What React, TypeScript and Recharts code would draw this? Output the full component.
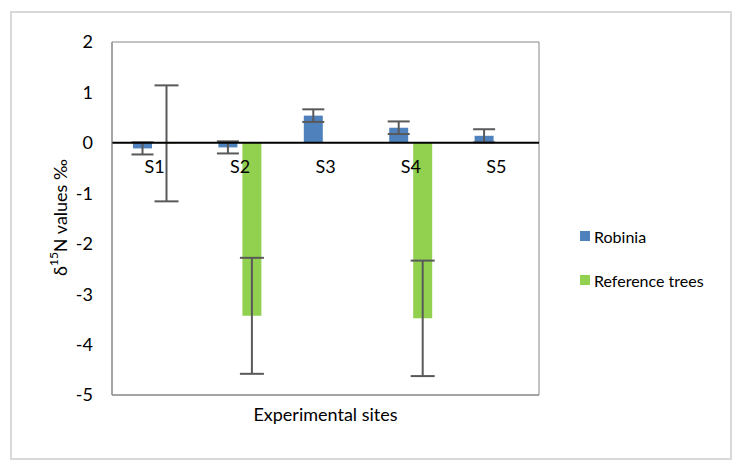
import { ComposedChart, Bar, Line, XAxis, YAxis, ErrorBar, ReferenceLine, ReferenceArea, LabelList } from 'recharts'

const SITES = ['S1', 'S2', 'S3', 'S4', 'S5']
const ROBINIA = [-0.11, -0.09, 0.54, 0.3, 0.14]
const ROBINIA_ERR = [0.12, 0.12, 0.125, 0.125, 0.13]
// S1 reference mean is essentially zero (hidden under the axis line)
const REFERENCE = [-0.01, -3.43, 0, -3.48, 0]
const REFERENCE_ERR = [1.15, 1.15, null, 1.145, null]
const Y_TICKS = [-5, -4, -3, -2, -1, 0, 1, 2]

const BLUE = '#4F81BD'
const GREEN = '#92D050'
const FRAME = '#868686'
const FONT = 'Lato, "Open Sans", sans-serif'

const data = SITES.map((site, i) => ({
  site,
  robinia: ROBINIA[i],
  robiniaErr: ROBINIA_ERR[i],
  reference: REFERENCE[i],
  referenceErr: REFERENCE_ERR[i],
}))

const legendItems = [
  { name: 'Robinia', color: BLUE },
  { name: 'Reference trees', color: GREEN },
]

function YTitle({ viewBox }: any) {
  const cx = viewBox.x + 48
  const cy = viewBox.y + viewBox.height / 2 - 1
  return (
    <text
      x={cx}
      y={cy}
      transform={`rotate(-90 ${cx} ${cy})`}
      textAnchor="middle"
      dominantBaseline="central"
      fontSize={18}
      fontFamily={FONT}
      fill="#000"
    >
      δ<tspan fontSize={12} dy={-7}>15</tspan>
      <tspan dy={7}>N values ‰</tspan>
    </text>
  )
}

export default function App() {
  return (
    <div
      style={{
        position: 'relative',
        width: 722,
        height: 449,
        marginLeft: 2,
        marginTop: 3,
        border: '2px solid #d9d9d9',
        boxSizing: 'border-box',
        background: '#fff',
        fontFamily: FONT,
      }}
    >
      <ComposedChart
        width={718}
        height={445}
        data={data}
        margin={{ top: 29, right: 191, bottom: 0, left: 0 }}
        barSize={19}
        barGap={5}
      >
        <XAxis
          dataKey="site"
          tick={false}
          tickLine={false}
          height={63}
          axisLine={{ stroke: FRAME }}
          label={{ value: 'Experimental sites', position: 'insideTop', offset: 13, fill: '#000', fontSize: 18 }}
        />
        <YAxis
          domain={[-5, 2]}
          ticks={Y_TICKS}
          width={100}
          tickLine={false}
          tickMargin={13}
          axisLine={{ stroke: FRAME }}
          tick={{ fill: '#000', fontSize: 18 }}
          label={<YTitle />}
        />
        {/* plot frame */}
        <ReferenceArea y1={-5} y2={2} fill="none" stroke={FRAME} strokeWidth={1} />
        <Bar dataKey="robinia" fill={BLUE} isAnimationActive={false}>
          <ErrorBar dataKey="robiniaErr" direction="y" width={11} stroke="#595959" strokeWidth={2} />
        </Bar>
        <Bar dataKey="reference" fill={GREEN} isAnimationActive={false}>
          <ErrorBar dataKey="referenceErr" direction="y" width={12} stroke="#595959" strokeWidth={2} />
        </Bar>
        <ReferenceLine y={0} stroke="#000" strokeWidth={2} />
        {/* site names sit just under the zero line */}
        <Line dataKey={() => 0} stroke="none" dot={false} activeDot={false} legendType="none" isAnimationActive={false}>
          <LabelList dataKey="site" position="bottom" offset={17} fill="#000" fontSize={18} />
        </Line>
      </ComposedChart>

      <div style={{ position: 'absolute', left: 568, top: 213 }}>
        {legendItems.map((item) => (
          <div key={item.name} style={{ display: 'flex', alignItems: 'center', height: 20, marginBottom: 24, fontSize: 16, color: '#000' }}>
            <span style={{ width: 10, height: 10, background: item.color, marginRight: 4 }} />
            <span>{item.name}</span>
          </div>
        ))}
      </div>
    </div>
  )
}
